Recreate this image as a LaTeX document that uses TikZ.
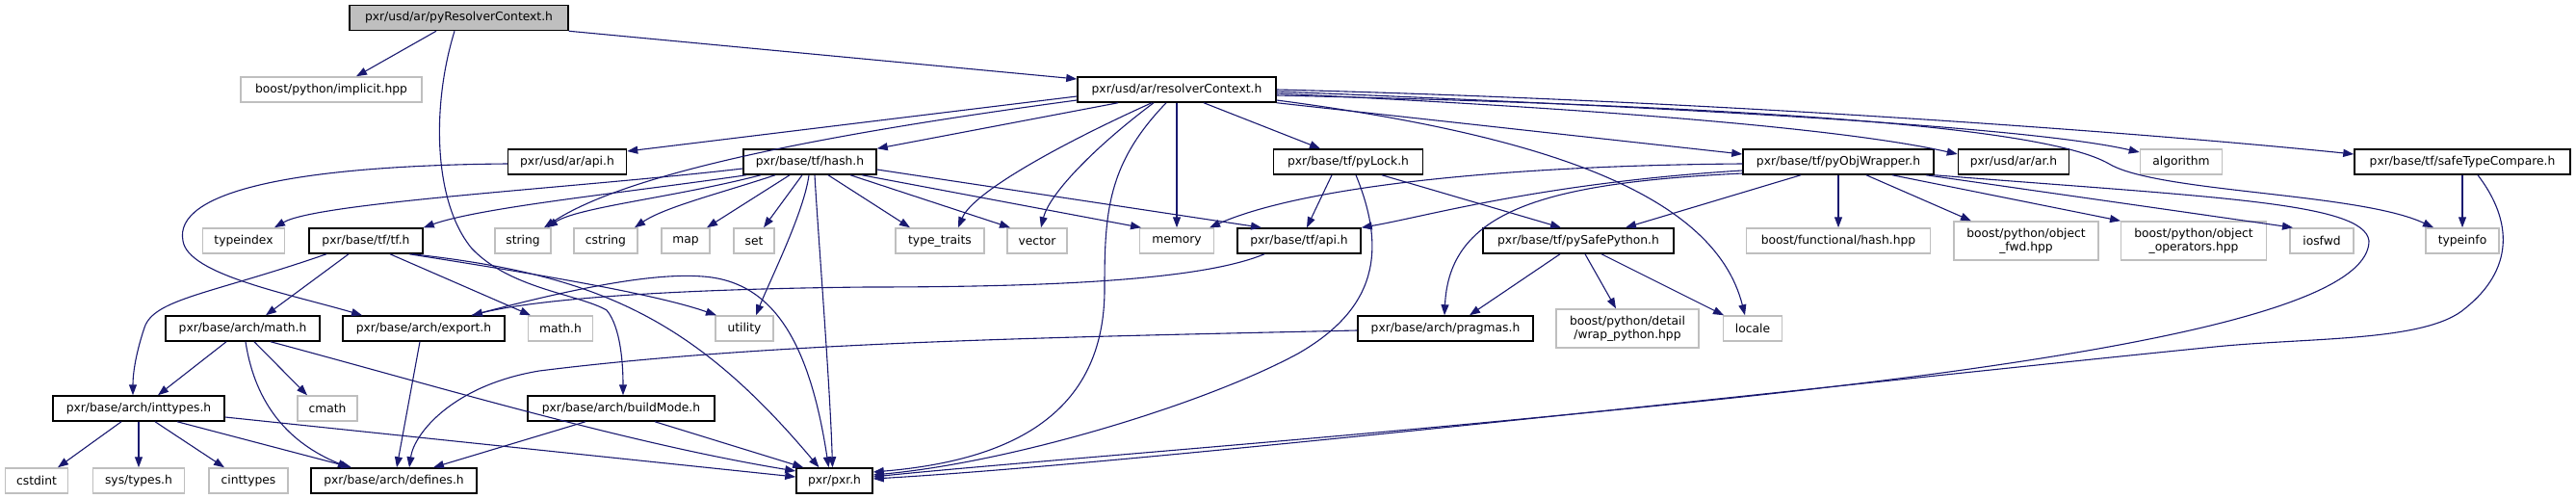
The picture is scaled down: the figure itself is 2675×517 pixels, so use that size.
\documentclass[tikz,border=0pt]{standalone}
\usepackage{fontspec}
\setmainfont{DejaVu Sans}
\usetikzlibrary{arrows.meta}
\definecolor{edgeblue}{HTML}{191970}
\definecolor{boxgray}{HTML}{BFBFBF}

\begin{document}
\begin{tikzpicture}[x=1pt, y=-1pt,
  hdr/.style={draw=black, line width=1.5pt, fill=white, minimum height=26pt, inner xsep=2pt, inner ysep=0pt, font=\fontsize{12.3}{14}\selectfont, align=center},
  ext/.style={hdr, draw=boxgray},
  inc/.style={draw=edgeblue, line width=1.1pt, -{Triangle[length=11pt,width=8pt]}, edgeblue}]
\useasboundingbox (0,0) rectangle (2675,517);

% rows of files
\node[hdr, fill=boxgray, minimum width=227pt] (root) at (476.5,18.5) {pxr/usd/ar/pyResolverContext.h};
\node[ext, minimum width=188pt] (implicit) at (344,93) {boost/python/implicit.hpp};
\node[hdr, minimum width=206pt] (resctx) at (1222,93) {pxr/usd/ar/resolverContext.h};

\node[hdr, minimum width=123pt] (arapi) at (589,168) {pxr/usd/ar/api.h};
\node[hdr, minimum width=138pt] (hash) at (841,168) {pxr/base/tf/hash.h};
\node[hdr, minimum width=155pt] (pylock) at (1400,168) {pxr/base/tf/pyLock.h};
\node[hdr, minimum width=198pt] (pyobj) at (1909,168) {pxr/base/tf/pyObjWrapper.h};
\node[hdr, minimum width=115pt] (arh) at (2091,168) {pxr/usd/ar/ar.h};
\node[ext, minimum width=85pt] (algorithm) at (2265,168) {algorithm};
\node[hdr, minimum width=224pt] (safetype) at (2557,168) {pxr/base/tf/safeTypeCompare.h};

\node[ext, minimum width=85pt] (typeindex) at (253,250) {typeindex};
\node[hdr, minimum width=118pt] (tf) at (380,250) {pxr/base/tf/tf.h};
\node[ext, minimum width=58pt] (string) at (543,250) {string};
\node[ext, minimum width=66pt] (cstring) at (629,250) {cstring};
\node[ext, minimum width=50pt] (map) at (712,250) {map};
\node[ext, minimum width=42pt] (set) at (783,250) {set};
\node[ext, minimum width=92pt] (typetraits) at (976,250) {type\_traits};
\node[ext, minimum width=62pt] (vector) at (1077,250) {vector};
\node[ext, minimum width=77pt] (memory) at (1222,250) {memory};
\node[hdr, minimum width=128pt] (tfapi) at (1349,250) {pxr/base/tf/api.h};
\node[hdr, minimum width=198pt] (pysafe) at (1639,250) {pxr/base/tf/pySafePython.h};
\node[ext, minimum width=191pt] (funchash) at (1909,250) {boost/functional/hash.hpp};
\node[ext, minimum width=150pt, minimum height=40pt] (objfwd) at (2104,250) {boost/python/object\\\_fwd.hpp};
\node[ext, minimum width=151pt, minimum height=40pt] (objops) at (2278,250) {boost/python/object\\\_operators.hpp};
\node[ext, minimum width=66pt] (iosfwd) at (2411,250) {iosfwd};
\node[ext, minimum width=76pt] (typeinfo) at (2557,250) {typeinfo};

\node[hdr, minimum width=160pt] (archmath) at (252,341) {pxr/base/arch/math.h};
\node[hdr, minimum width=168pt] (export) at (440,341) {pxr/base/arch/export.h};
\node[ext, minimum width=67pt] (mathh) at (582,341) {math.h};
\node[ext, minimum width=60pt] (utility) at (773,341) {utility};
\node[hdr, minimum width=182pt] (pragmas) at (1501,341) {pxr/base/arch/pragmas.h};
\node[ext, minimum width=148pt, minimum height=40pt] (wrap) at (1690,341) {boost/python/detail\\/wrap\_python.hpp};
\node[ext, minimum width=61pt] (locale) at (1820,341) {locale};

\node[hdr, minimum width=178pt] (inttypes) at (144,424) {pxr/base/arch/inttypes.h};
\node[ext, minimum width=62pt] (cmath) at (340,424) {cmath};
\node[hdr, minimum width=194pt] (buildmode) at (645,424) {pxr/base/arch/buildMode.h};

\node[ext, minimum width=65pt] (cstdint) at (38,499) {cstdint};
\node[ext, minimum width=95pt] (systypes) at (144,499) {sys/types.h};
\node[ext, minimum width=82pt] (cinttypes) at (258,499) {cinttypes};
\node[hdr, minimum width=172pt] (defines) at (409,499) {pxr/base/arch/defines.h};
\node[hdr, minimum width=79pt] (pxr) at (866.5,499) {pxr/pxr.h};

% includes of pyResolverContext.h
\draw[inc] ([xshift=-23.5pt]root.south) -- ([xshift=26pt]implicit.north);
\draw[inc] (root.south east) -- ([yshift=11pt]resctx.west);
\draw[inc] ([xshift=-4.5pt]root.south) .. controls (448,110) and (450,210) .. (490,258)
  .. controls (530,300) and (600,305) .. (630,322) .. controls (645,340) and (647,380) .. ([xshift=2pt]buildmode.north);

% includes of resolverContext.h
\draw[inc] ([yshift=-7pt]resctx.west) -- ([yshift=11pt]arapi.east);
\draw[inc] ([yshift=-11pt]resctx.west) .. controls (850,140) and (650,180) .. ([xshift=22pt]string.north);
\draw[inc] ([xshift=-61pt]resctx.south) -- (hash.north east);
\draw[inc] ([xshift=-26pt]resctx.south) .. controls (1100,150) and (1010,200) .. ([xshift=19pt]typetraits.north);
\draw[inc] ([xshift=-24pt]resctx.south) .. controls (1140,150) and (1090,200) .. ([xshift=4pt]vector.north);
\draw[inc] ([xshift=-11pt]resctx.south) .. controls (1150,170) and (1147,220) .. (1147,300)
  .. controls (1147,430) and (1050,478) .. ([yshift=9pt]pxr.east);
\draw[inc] (resctx.south) -- (memory.north);
\draw[inc] ([xshift=28pt]resctx.south) -- ([xshift=-29pt]pylock.north);
\draw[inc] (resctx.south east) -- ([yshift=8pt]pyobj.west);
\draw[inc] ([yshift=-4pt]resctx.east) .. controls (1600,110) and (1900,130) .. ([yshift=8pt]arh.west);
\draw[inc] ([yshift=-2pt]resctx.east) .. controls (1700,110) and (2100,130) .. ([yshift=10pt]algorithm.west);
\draw[inc] (resctx.east) .. controls (1800,105) and (2250,140) .. ([yshift=8pt]safetype.west);
\draw[inc] ([yshift=-6pt]resctx.east) .. controls (1800,110) and (2120,130) .. (2190,170)
  .. controls (2240,200) and (2450,200) .. ([xshift=-30pt]typeinfo.north);
\draw[inc] ([yshift=-11pt]resctx.east) .. controls (1600,140) and (1780,200) .. ([xshift=-8pt]locale.north);

% includes of ar/api.h and tf/api.h
\draw[inc] ([yshift=-2pt]arapi.west) .. controls (300,172) and (180,200) .. (190,250)
  .. controls (195,285) and (300,305) .. ([xshift=-64pt]export.north);
\draw[inc] ([xshift=-36pt]tfapi.south) .. controls (1250,290) and (1100,298) .. (900,298)
  .. controls (700,300) and (560,310) .. ([xshift=50pt]export.north);

% includes of hash.h
\draw[inc] ([yshift=-7pt]hash.west) .. controls (600,195) and (330,210) .. ([xshift=32pt]typeindex.north);
\draw[inc] ([xshift=-66pt]hash.south) .. controls (650,200) and (500,215) .. (tf.north east);
\draw[inc] ([xshift=-51pt]hash.south) .. controls (700,205) and (600,215) .. ([xshift=25pt]string.north);
\draw[inc] ([xshift=-36pt]hash.south) .. controls (750,200) and (690,215) .. ([xshift=30pt]cstring.north);
\draw[inc] ([xshift=-21pt]hash.south) -- ([xshift=22pt]map.north);
\draw[inc] ([xshift=-8pt]hash.south) -- ([xshift=10pt]set.north);
\draw[inc] ([xshift=-1pt]hash.south) .. controls (835,220) and (800,290) .. ([xshift=12pt]utility.north);
\draw[inc] ([xshift=5pt]hash.south) .. controls (850,250) and (862,400) .. ([xshift=-2pt]pxr.north);
\draw[inc] ([xshift=19pt]hash.south) -- ([xshift=-31pt]typetraits.north);
\draw[inc] ([xshift=42pt]hash.south) -- ([xshift=-28pt]vector.north);
\draw[inc] ([xshift=54pt]hash.south) -- ([xshift=-37pt]memory.north);
\draw[inc] ([yshift=-8pt]hash.east) -- ([xshift=-39pt]tfapi.north);

% includes of pyLock.h
\draw[inc] ([xshift=-17pt]pylock.south) -- ([xshift=8pt]tfapi.north);
\draw[inc] ([xshift=35pt]pylock.south) -- ([xshift=-18pt]pysafe.north);
\draw[inc] ([xshift=8pt]pylock.south) .. controls (1440,260) and (1430,320) .. (1348,367)
  .. controls (1250,420) and (1050,480) .. ([yshift=6pt]pxr.east);

% includes of pyObjWrapper.h
\draw[inc] ([yshift=-2pt]pyobj.west) .. controls (1550,172) and (1350,195) .. ([xshift=34pt]memory.north);
\draw[inc] ([yshift=-9pt]pyobj.west) .. controls (1600,190) and (1480,225) .. (tfapi.north east);
\draw[inc] ([yshift=-12pt]pyobj.west) .. controls (1600,190) and (1505,220) .. ([xshift=-1pt]pragmas.north);
\draw[inc] ([xshift=-39pt]pyobj.south) -- ([xshift=49pt]pysafe.north);
\draw[inc] (pyobj.south) -- (funchash.north);
\draw[inc] ([xshift=29pt]pyobj.south) -- ([xshift=-57pt]objfwd.north);
\draw[inc] ([xshift=56pt]pyobj.south) -- ([xshift=-76pt]objops.north);
\draw[inc] ([xshift=91pt]pyobj.south) -- ([xshift=-30pt]iosfwd.north);
\draw[inc] (pyobj.south east) .. controls (2300,205) and (2455,210) .. (2460,250)
  .. controls (2460,320) and (2200,370) .. (1800,413) .. controls (1400,455) and (1050,480) .. ([yshift=4pt]pxr.east);

% includes of safeTypeCompare.h
\draw[inc] (safetype.south) -- (typeinfo.north);
\draw[inc] ([xshift=16pt]safetype.south) .. controls (2610,230) and (2610,280) .. (2560,320)
  .. controls (2520,355) and (2400,350) .. (2300,360) .. controls (1900,400) and (1200,480) .. ([yshift=2pt]pxr.east);

% includes of pySafePython.h and pragmas.h
\draw[inc] ([xshift=-19pt]pysafe.south) -- ([xshift=25pt]pragmas.north);
\draw[inc] ([xshift=7pt]pysafe.south) -- ([xshift=-12pt]wrap.north);
\draw[inc] ([xshift=24pt]pysafe.south) -- ([xshift=-30pt]locale.north);
\draw[inc] ([yshift=-2pt]pragmas.west) .. controls (1100,350) and (800,355) .. (560,385)
  .. controls (470,400) and (430,450) .. ([xshift=16pt]defines.north);

% includes of tf.h
\draw[inc] ([xshift=-41pt]tf.south) .. controls (220,305) and (160,310) .. (150,340)
  .. controls (140,370) and (138,390) .. ([xshift=-6pt]inttypes.north);
\draw[inc] ([xshift=-18pt]tf.south) -- ([xshift=24pt]archmath.north);
\draw[inc] ([xshift=25pt]tf.south) -- ([xshift=-31pt]mathh.north);
\draw[inc] ([xshift=45pt]tf.south) .. controls (560,285) and (680,305) .. ([xshift=-29pt]utility.north);
\draw[inc] ([xshift=48pt]tf.south) .. controls (620,285) and (720,330) .. ([xshift=-16pt]pxr.north);

% includes of the arch headers
\draw[inc] ([xshift=50pt]export.north) .. controls (600,298) and (680,283) .. (730,287)
  .. controls (800,292) and (840,350) .. ([xshift=-6pt]pxr.north);
\draw[inc] ([xshift=-4pt]export.south) -- ([xshift=3pt]defines.north);
\draw[inc] ([xshift=-17pt]archmath.south) -- ([xshift=20pt]inttypes.north);
\draw[inc] ([xshift=3pt]archmath.south) .. controls (265,420) and (300,460) .. ([xshift=-47pt]defines.north);
\draw[inc] ([xshift=12pt]archmath.south) -- ([xshift=-21pt]cmath.north);
\draw[inc] ([xshift=29pt]archmath.south) .. controls (450,400) and (650,460) .. ([yshift=10pt]pxr.west);
\draw[inc] ([xshift=-18pt]inttypes.south) -- ([xshift=22pt]cstdint.north);
\draw[inc] (inttypes.south) -- (systypes.north);
\draw[inc] ([xshift=17pt]inttypes.south) -- ([xshift=-25pt]cinttypes.north);
\draw[inc] ([xshift=40pt]inttypes.south) -- ([xshift=-44pt]defines.north);
\draw[inc] ([yshift=-9pt]inttypes.east) -- ([yshift=4pt]pxr.west);
\draw[inc] ([xshift=-37pt]buildmode.south) -- ([xshift=41pt]defines.north);
\draw[inc] ([xshift=35pt]buildmode.south) -- ([xshift=8pt]pxr.north west);
\end{tikzpicture}
\end{document}
